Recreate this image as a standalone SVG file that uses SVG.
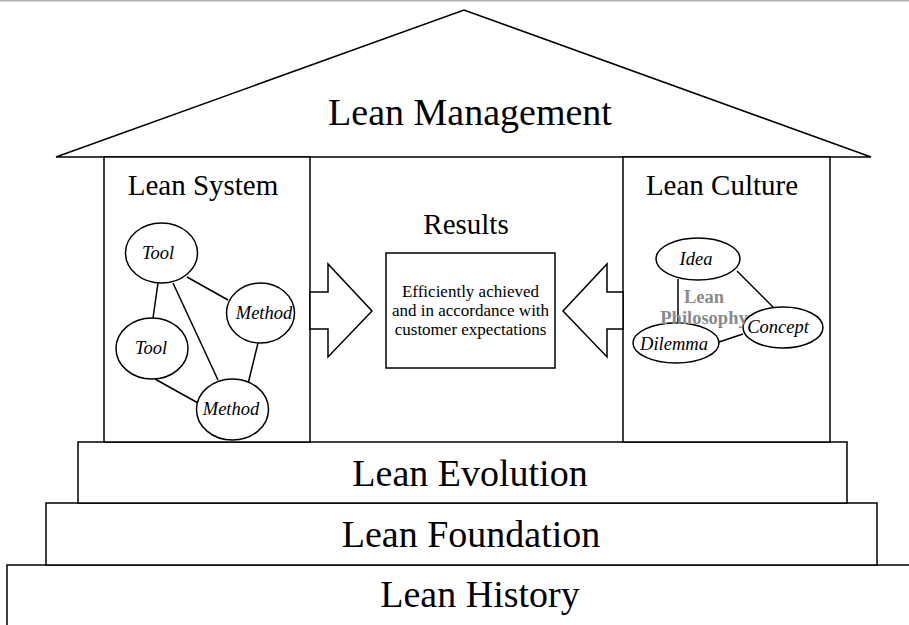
<svg xmlns="http://www.w3.org/2000/svg" width="909" height="625" viewBox="0 0 909 625">
<style>
.s{fill:#fff;stroke:#000;stroke-width:1.5}
.ln{stroke:#000;stroke-width:1.5;fill:none}
text{font-family:'Liberation Serif','Times New Roman',Times,'Nimbus Roman',Tinos,serif;text-anchor:middle;fill:#000}
.big{font-size:38px}
.mid{font-size:29px}
.sm{font-size:17px}
.it{font-size:18.5px;font-style:italic}
.ph{font-size:18.5px;font-weight:bold;fill:#8a8a8a}
</style>
<rect x="0" y="0" width="909" height="625" fill="#fff"/>
<rect x="0" y="0" width="909" height="1.5" fill="#b0b0b0"/>
<g id="history"><rect class="s" x="7" y="565" width="910" height="70"/><text class="big" x="480" y="607">Lean History</text></g>
<g id="foundation"><rect class="s" x="46" y="503" width="831" height="62"/><text class="big" x="471" y="547">Lean Foundation</text></g>
<g id="evolution"><rect class="s" x="78" y="442" width="769" height="61"/><text class="big" x="470" y="486">Lean Evolution</text></g>
<g id="roof"><polygon class="s" points="56,157 464,10 871,157"/><text class="big" x="470" y="125">Lean Management</text></g>
<g id="lean-system"><rect class="s" x="104" y="157" width="206" height="285"/><text class="mid" x="203" y="195">Lean System</text></g>
<g id="lean-culture"><rect class="s" x="623" y="157" width="207" height="285"/><text class="mid" x="722" y="195">Lean Culture</text></g>
<g id="results"><text class="mid" x="466" y="234">Results</text><rect class="s" x="386" y="253" width="169" height="115"/>
<text class="sm" x="470.5" y="297">Efficiently achieved</text><text class="sm" x="470.5" y="316">and in accordance with</text><text class="sm" x="470.5" y="335">customer expectations</text></g>
<g id="arrows">
<polygon class="s" points="310,292 328,292 328,264 372,311 328,357 328,329 310,329"/>
<polygon class="s" points="623,292 607,292 607,264 563,311 607,357 607,329 623,329"/>
</g>
<g id="connectors">
<line class="ln" x1="158" y1="283" x2="153" y2="318"/>
<line class="ln" x1="173" y1="283" x2="218" y2="380"/>
<line class="ln" x1="187" y1="277" x2="228" y2="300"/>
<line class="ln" x1="258" y1="343" x2="248" y2="384"/>
<line class="ln" x1="155" y1="379" x2="198" y2="403"/>
<line class="ln" x1="678" y1="279" x2="678" y2="323"/>
<line class="ln" x1="737" y1="271" x2="773" y2="307"/>
<line class="ln" x1="719" y1="342" x2="743" y2="334"/>
</g>
<g id="tool1"><ellipse class="s" cx="161.5" cy="253" rx="36" ry="30"/><text class="it" x="158" y="259">Tool</text></g>
<g id="method1"><ellipse class="s" cx="260.5" cy="313" rx="34" ry="30"/><text class="it" x="264" y="319">Method</text></g>
<g id="tool2"><ellipse class="s" cx="152" cy="348.5" rx="36" ry="30.5"/><text class="it" x="151" y="354">Tool</text></g>
<g id="method2"><ellipse class="s" cx="232.5" cy="409.5" rx="36" ry="30.5"/><text class="it" x="231" y="415">Method</text></g>
<g id="idea"><ellipse class="s" cx="698" cy="259" rx="42" ry="21"/><text class="it" x="696" y="265">Idea</text></g>
<g id="concept"><ellipse class="s" cx="783" cy="327.5" rx="40" ry="20.5"/><text class="it" x="778" y="333">Concept</text></g>
<g id="dilemma"><ellipse class="s" cx="676" cy="343" rx="43" ry="20"/><text class="it" x="674" y="350">Dilemma</text></g>
<g id="philosophy"><text class="ph" x="704" y="303">Lean</text><text class="ph" x="704" y="324">Philosophy</text></g>
</svg>
